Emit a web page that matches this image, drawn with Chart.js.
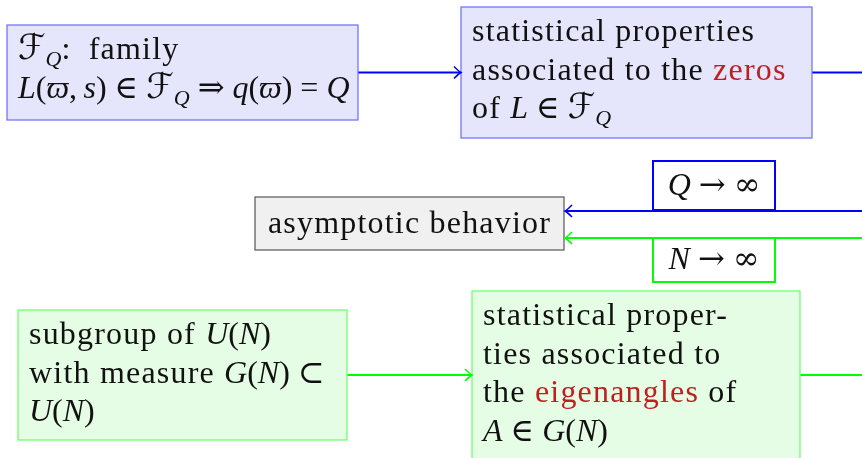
<!DOCTYPE html>
<html>
<head>
<meta charset="utf-8">
<script src="https://cdn.jsdelivr.net/npm/chart.js@4"></script>
<style>
  html, body { margin: 0; padding: 0; background: #fff; }
  #wrap { width: 862px; height: 458px; position: relative; }
</style>
</head>
<body>
<div id="wrap"><canvas id="diagram"></canvas></div>
<script>
// Box texts: one entry per line, each line a list of [text, style] runs
// styles: "" roman text, "m" math roman, "op" arrows / infinity, "i" math italic,
//         "cal" script letter, "sub" subscript, "red" highlighted word
const familyText = [
  [["ℱ", "cal"], ["Q", "sub"], [":", "m"], ["  family", ""]],
  [["L", "i"], ["(", "m"], ["ϖ", "i"], [",\u2009", "m"], ["s", "i"], [") ∈ ", "m"], ["ℱ", "cal"], ["Q", "sub"],
   [" ", "m"], ["⇒", "op"], [" ", "m"], ["q", "i"], ["(", "m"], ["ϖ", "i"], [") = ", "m"], ["Q", "i"]]
];
const zerosText = [
  [["statistical properties", ""]],
  [["associated to the ", ""], ["zeros", "red"]],
  [["of ", ""], ["L", "i"], [" ∈ ", "m"], ["ℱ", "cal"], ["Q", "sub"]]
];
const limitText = [
  [["asymptotic behavior", ""]]
];
const qLimitText = [
  [["Q", "i"], [" ", "m"], ["→", "op"], [" ", "m"], ["∞", "op"]]
];
const nLimitText = [
  [["N", "i"], [" ", "m"], ["→", "op"], [" ", "m"], ["∞", "op"]]
];
const subgroupText = [
  [["subgroup of ", ""], ["U", "i"], ["(", "m"], ["N", "i"], [")", "m"]],
  [["with measure ", ""], ["G", "i"], ["(", "m"], ["N", "i"], [") ⊂", "m"]],
  [["U", "i"], ["(", "m"], ["N", "i"], [")", "m"]]
];
const eigenText = [
  [["statistical proper-", ""]],
  [["ties associated to", ""]],
  [["the ", ""], ["eigenangles", "red"], [" of", ""]],
  [["A", "i"], [" ∈ ", "m"], ["G", "i"], ["(", "m"], ["N", "i"], [")", "m"]]
];

// Colours
const BLUE = "#0000ff";
const GREEN = "#00ff00";
const RED = "#bf1f1f";

// Layout of the boxes, in the units of the hidden x / y scales
const boxes = {
  family:   { text: familyText,   x0: 7,   y0: 25,  x1: 358, y1: 120, fill: "#e5e5fc", stroke: "#6a6aff", lw: 1.2 },
  zeros:    { text: zerosText,    x0: 461, y0: 7,   x1: 812, y1: 138, fill: "#e5e5fc", stroke: "#6a6aff", lw: 1.2 },
  limit:    { text: limitText,    x0: 255, y0: 197, x1: 564, y1: 250, fill: "#f0f0f0", stroke: "#555555", lw: 1.2, center: true },
  qLimit:   { text: qLimitText,   x0: 653, y0: 161, x1: 775, y1: 210, fill: "#ffffff", stroke: BLUE, lw: 2, center: true },
  nLimit:   { text: nLimitText,   x0: 653, y0: 238, x1: 775, y1: 282, fill: "#ffffff", stroke: GREEN, lw: 2, center: true },
  subgroup: { text: subgroupText, x0: 18,  y0: 310, x1: 347, y1: 440, fill: "#e5fde5", stroke: "#66ff66", lw: 1.2 },
  eigen:    { text: eigenText,    x0: 472, y0: 291, x1: 800, y1: 459, fill: "#e5fde5", stroke: "#66ff66", lw: 1.2 }
};

const EDGE_X = 862;
const midY = (b) => (b.y0 + b.y1) / 2;

// Edges built from the box sides
const edges = [
  { color: BLUE,  arrow: true,  pts: [{ x: boxes.family.x1, y: midY(boxes.family) }, { x: boxes.zeros.x0, y: midY(boxes.zeros) }] },
  { color: BLUE,  arrow: false, pts: [{ x: boxes.zeros.x1, y: midY(boxes.zeros) }, { x: EDGE_X, y: midY(boxes.zeros) }] },
  { color: BLUE,  arrow: true,  pts: [{ x: EDGE_X, y: boxes.qLimit.y1 + 1 }, { x: boxes.limit.x1 + 1, y: boxes.qLimit.y1 + 1 }] },
  { color: GREEN, arrow: true,  pts: [{ x: EDGE_X, y: boxes.nLimit.y0 }, { x: boxes.limit.x1 + 1, y: boxes.nLimit.y0 }] },
  { color: GREEN, arrow: true,  pts: [{ x: boxes.subgroup.x1, y: midY(boxes.subgroup) }, { x: boxes.eigen.x0, y: midY(boxes.subgroup) }] },
  { color: GREEN, arrow: false, pts: [{ x: boxes.eigen.x1, y: midY(boxes.subgroup) }, { x: EDGE_X, y: midY(boxes.subgroup) }] }
];

const FONT_SIZE = 32;
const TEXT_SPACING = "1.2px";
const FAMILY = '"Liberation Serif", "DejaVu Serif", "DejaVu Sans", serif';

function fontFor(style) {
  if (style === "i") return "italic " + FONT_SIZE + "px " + FAMILY;
  if (style === "cal") return "italic " + (FONT_SIZE + 3) + "px " + FAMILY;
  if (style === "sub") return "italic " + Math.round(FONT_SIZE * 0.7) + "px " + FAMILY;
  if (style === "op") return FONT_SIZE + 'px "DejaVu Serif", serif';
  return FONT_SIZE + "px " + FAMILY;
}

function setRun(ctx, style) {
  ctx.font = fontFor(style);
  ctx.letterSpacing = (style === "" || style === "red") ? TEXT_SPACING : "0px";
}

function lineWidth(ctx, line) {
  let w = 0;
  line.forEach(([t, s]) => {
    setRun(ctx, s);
    w += ctx.measureText(t).width;
  });
  return w;
}

function drawLine(ctx, line, x, y) {
  line.forEach(([t, s]) => {
    setRun(ctx, s);
    ctx.fillStyle = s === "red" ? RED : "#111111";
    const dy = s === "sub" ? 7 : 0;
    ctx.fillText(t, x, y + dy);
    x += ctx.measureText(t).width;
  });
}

function drawArrowTip(ctx, x, y, dir, color) {
  ctx.save();
  ctx.strokeStyle = color;
  ctx.lineWidth = 1.5;
  ctx.beginPath();
  ctx.moveTo(x - dir * 7, y - 6);
  ctx.quadraticCurveTo(x - dir * 2, y - 1, x, y);
  ctx.quadraticCurveTo(x - dir * 2, y + 1, x - dir * 7, y + 6);
  ctx.stroke();
  ctx.restore();
}

// Plugin that draws the boxes, their texts and the arrow tips using the chart scales
const diagramPlugin = {
  id: "diagram",
  afterDatasetsDraw(chart) {
    const ctx = chart.ctx;
    const xs = chart.scales.x;
    const ys = chart.scales.y;

    Object.values(boxes).forEach((b) => {
      const left = xs.getPixelForValue(b.x0);
      const right = xs.getPixelForValue(b.x1);
      const top = ys.getPixelForValue(b.y0);
      const bottom = ys.getPixelForValue(b.y1);
      ctx.save();
      ctx.fillStyle = b.fill;
      ctx.fillRect(left, top, right - left, bottom - top);
      ctx.strokeStyle = b.stroke;
      ctx.lineWidth = b.lw;
      ctx.strokeRect(left, top, right - left, bottom - top);

      ctx.textBaseline = "alphabetic";
      if (b.center) {
        const line = b.text[0];
        const w = lineWidth(ctx, line);
        drawLine(ctx, line, (left + right) / 2 - w / 2, (top + bottom) / 2 + 9);
      } else {
        b.text.forEach((line, i) => {
          drawLine(ctx, line, left + 11, top + 34 + i * 38.5);
        });
      }
      ctx.restore();
    });

    edges.forEach((e) => {
      if (!e.arrow) return;
      const a = e.pts[0];
      const z = e.pts[e.pts.length - 1];
      const dir = z.x > a.x ? 1 : -1;
      drawArrowTip(ctx, xs.getPixelForValue(z.x), ys.getPixelForValue(z.y), dir, e.color);
    });
  }
};

new Chart(document.getElementById("diagram"), {
  type: "scatter",
  data: {
    datasets: edges.map((e) => ({
      data: e.pts,
      showLine: true,
      borderColor: e.color,
      borderWidth: 2,
      pointRadius: 0,
      fill: false
    }))
  },
  options: {
    responsive: true,
    maintainAspectRatio: false,
    animation: false,
    layout: { padding: 0 },
    plugins: { legend: { display: false }, tooltip: { enabled: false } },
    scales: {
      x: { type: "linear", min: 0, max: 862, display: false },
      y: { type: "linear", min: 0, max: 458, reverse: true, display: false }
    }
  },
  plugins: [diagramPlugin]
});
</script>
</body>
</html>
